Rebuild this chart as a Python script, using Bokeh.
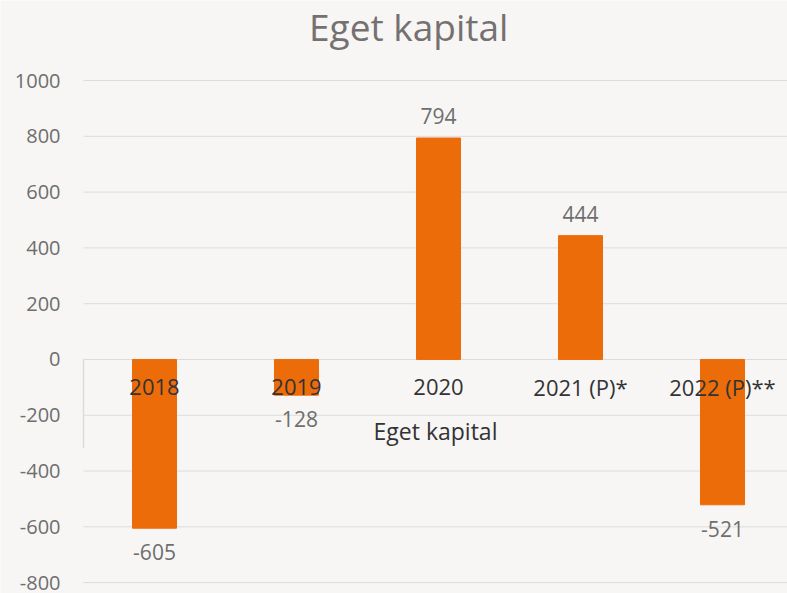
from bokeh.plotting import figure
from bokeh.models import Range1d, ColumnDataSource
from bokeh.core.properties import value
from bokeh.embed import file_html
from bokeh.resources import INLINE

categories = ["2018", "2019", "2020", "2021 (P)*", "2022 (P)**"]
values = [-605, -128, 794, 444, -521]
y_ticks = [-800, -600, -400, -200, 0, 200, 400, 600, 800, 1000]
title_text = "Eget kapital"
axis_title = "Eget kapital"

FONT = "Open Sans"
BG = "#F7F6F5"
BAR = "#ED6C0A"
GRID = "#DCDCDC"

xs = list(range(len(categories)))
cat_step_px = 142
x_start = -0.5                      # left edge of the plotting area
x_end = x_start + 704 / cat_step_px
x_canvas_left = x_start - 83 / cat_step_px
y_top_tick = max(y_ticks)

# the frame covers the whole canvas; axes are drawn by hand
p = figure(width=787, height=593, output_backend="svg", toolbar_location=None,
           x_range=Range1d(x_canvas_left, x_end), y_range=Range1d(-839, 1287),
           min_border_left=0, min_border_right=0, min_border_top=0, min_border_bottom=0)
p.background_fill_color = BG
p.border_fill_color = BG
p.outline_line_color = None
p.axis.visible = False
p.grid.visible = False

# horizontal gridlines
p.segment(x0=[x_start] * len(y_ticks), y0=y_ticks, x1=[x_end] * len(y_ticks), y1=y_ticks,
          line_color=GRID, line_width=1)
# short left edge segment below zero
p.segment(x0=[x_start], y0=[0], x1=[x_start], y1=[-318], line_color=GRID, line_width=1.5)

# y tick labels
p.text(x=[x_start] * len(y_ticks), y=y_ticks, text=[str(t) for t in y_ticks],
       text_font=value(FONT), text_font_size="20px", text_color="#6E6E6E",
       text_align="right", text_baseline="middle", x_offset=-23)

src = ColumnDataSource(dict(x=xs, v=values, cat=categories,
                            lbl=[str(v) for v in values],
                            off=[-22 if v >= 0 else 24 for v in values]))
p.vbar(x="x", top="v", bottom=0, width=0.31, source=src, fill_color=BAR, line_color=BAR)

p.text(x="x", y=0, text="cat", source=src, text_font=value(FONT), text_font_size="22px",
       text_color="#333333", text_align="center", text_baseline="alphabetic", y_offset=28)
p.text(x="x", y="v", text="lbl", source=src, text_font=value(FONT), text_font_size="21px",
       text_color="#6E6E6E", text_align="center", text_baseline="alphabetic", y_offset="off")

# axis title under category labels
p.text(x=[(x_start + x_end) / 2], y=[0], text=[axis_title], text_font=value(FONT),
       text_font_size="23px", text_color="#333333", text_align="center",
       text_baseline="alphabetic", y_offset=72)

# chart title
p.text(x=[1.79], y=[y_top_tick], text=[title_text], text_font=value(FONT),
       text_font_size="37px", text_color="#757171", text_align="center",
       text_baseline="alphabetic", y_offset=-54)

open("out.html", "w").write(file_html(p, INLINE))
